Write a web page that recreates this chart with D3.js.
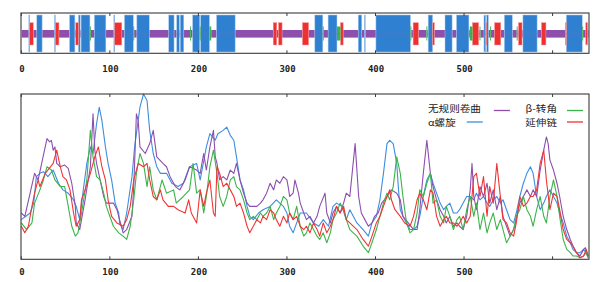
<!DOCTYPE html>
<html>
<head>
<meta charset="utf-8">
<script src="https://cdn.jsdelivr.net/npm/d3@7"></script>
<style>
  body { margin: 0; background: #fff; }
</style>
</head>
<body>
<div id="chart"></div>
<script>
// sequence length and axis ticks
const seqLength = 640;
const tickValues = [0, 100, 200, 300, 400, 500, 600];
const tickLabels = ["0", "100", "200", "300", "400", "500"];

// predicted structure segments [start, end] (residues), the rest is random coil
const helixSegs = [[9,9],[18,23],[38,38],[55,60],[65,66],[68,77],[83,95],[105,105],[117,126],[131,144],
  [167,172],[176,178],[180,183],[194,201],[203,212],[221,241],[332,340],[347,356],[381,384],[388,388],
  [401,439],[460,464],[479,486],[492,505],[523,524],[526,527],[546,554],[567,582],[616,633]];
const strandSegs = [[10,13],[39,42],[62,64],[106,113],[285,288],[291,294],[318,324],[361,363],[443,448],
  [465,466],[510,516],[525,525],[535,541],[562,565],[588,592],[615,615],[638,639]];
const turnSegs = [[78,78],[127,127],[191,191],[202,202],[213,214],[341,341],[357,360],[440,440],[458,458],
  [507,509],[518,518],[530,530],[560,560],[634,634]];

// legend names
const legendNames = ["无规则卷曲", "α螺旋", "β-转角", "延伸链"];

// probability curves, [residue, value]
const coilProb = [[0,0.28],[4,0.26],[15,0.52],[19,0.48],[29,0.73],[32,0.71],[34,0.72],[36,0.66],[38,0.68],[40,0.58],[44,0.56],[49,0.57],[53,0.55],[57,0.46],[61,0.32],[62,0.22],[66,0.18],[68,0.24],[72,0.36],[78,0.56],[81,0.88],[83,0.66],[85,0.58],[89,0.48],[93,0.38],[96,0.34],[104,0.34],[108,0.30],[111,0.24],[115,0.16],[119,0.18],[125,0.26],[127,0.44],[130,0.88],[132,0.84],[134,0.68],[140,0.64],[145,0.70],[149,0.78],[153,0.62],[160,0.58],[164,0.56],[168,0.50],[174,0.44],[179,0.42],[185,0.48],[190,0.56],[198,0.54],
  [202,0.52],[206,0.64],[209,0.54],[213,0.68],[217,0.78],[219,0.62],[221,0.58],[224,0.48],[228,0.50],[232,0.48],[236,0.54],[240,0.52],[243,0.58],[247,0.48],[251,0.40],[255,0.34],[258,0.32],[266,0.32],[270,0.34],[273,0.36],[277,0.40],[281,0.46],[285,0.42],[288,0.48],[292,0.46],[296,0.50],[300,0.48],[302,0.42],[303,0.38],[307,0.40],[309,0.48],[313,0.40],[315,0.34],[319,0.28],[322,0.24],[326,0.26],[330,0.22],[334,0.26],[337,0.32],[343,0.40],[345,0.28],[349,0.22],[352,0.28],[356,0.32],[360,0.28],[364,0.34],[367,0.40],
  [371,0.38],[377,0.70],[381,0.38],[384,0.28],[388,0.24],[392,0.20],[396,0.22],[399,0.26],[403,0.28],[407,0.34],[413,0.38],[418,0.42],[424,0.40],[428,0.36],[431,0.26],[437,0.22],[443,0.18],[447,0.18],[450,0.30],[454,0.52],[458,0.72],[462,0.52],[465,0.44],[469,0.36],[473,0.30],[477,0.26],[480,0.22],[484,0.26],
  [488,0.20],[492,0.22],[495,0.20],[499,0.18],[503,0.26],[507,0.42],[509,0.58],[511,0.38],[514,0.30],[518,0.44],[522,0.38],[526,0.46],[529,0.34],[533,0.42],[537,0.30],[541,0.38],[544,0.26],[548,0.20],[552,0.14],[556,0.18],[559,0.24],[563,0.34],[567,0.38],[571,0.42],[575,0.38],[578,0.42],[582,0.38],[586,0.54],[590,0.66],[593,0.74],[595,0.70],[597,0.60],[601,0.54],[605,0.46],[608,0.38],[612,0.26],[616,0.18],[620,0.12],[623,0.08],[627,0.04],[631,0.02],[635,0.06],[637,0.07],[640,0.02]];

const helixProb = [[0,0.24],[10,0.28],[14,0.34],[17,0.50],[21,0.52],[25,0.53],[30,0.50],[36,0.54],[42,0.46],[47,0.42],[53,0.40],[59,0.36],[62,0.32],[66,0.24],[70,0.42],[74,0.58],[78,0.68],[81,0.64],[85,0.82],[88,0.92],[91,0.84],[95,0.68],[98,0.58],[102,0.48],[106,0.34],[110,0.28],[111,0.22],[115,0.18],[119,0.28],[125,0.50],[128,0.68],[134,0.92],[138,1.00],[142,0.96],[145,0.78],[149,0.64],[153,0.56],[157,0.52],[164,0.52],[170,0.46],[177,0.44],[183,0.46],[190,0.56],[198,0.58],
  [202,0.48],[209,0.68],[213,0.76],[219,0.72],[222,0.76],[228,0.78],[232,0.80],[236,0.75],[240,0.72],[243,0.62],[247,0.48],[251,0.42],[255,0.32],[258,0.26],[262,0.24],[268,0.28],[273,0.30],[281,0.32],[288,0.36],[292,0.34],[296,0.32],[300,0.28],[303,0.20],[307,0.16],[311,0.22],[315,0.28],[322,0.28],[330,0.22],[336,0.20],[341,0.24],[347,0.20],[352,0.32],[356,0.34],[362,0.32],[367,0.24],
  [371,0.30],[379,0.22],[386,0.18],[392,0.14],[396,0.22],[401,0.26],[405,0.36],[409,0.52],[413,0.70],[416,0.72],[420,0.70],[424,0.58],[426,0.42],[428,0.30],[431,0.26],[435,0.22],[439,0.18],[443,0.18],[447,0.20],[450,0.26],[454,0.38],[458,0.48],[462,0.52],[465,0.46],[469,0.40],[473,0.34],[477,0.30],[480,0.32],[484,0.34],
  [488,0.28],[492,0.28],[495,0.30],[499,0.34],[503,0.38],[507,0.38],[511,0.36],[514,0.40],[518,0.36],[522,0.38],[526,0.34],[529,0.32],[533,0.36],[537,0.38],[541,0.34],[544,0.36],[548,0.30],[552,0.24],[556,0.22],[559,0.28],[563,0.38],[567,0.46],[571,0.52],[575,0.56],[578,0.52],[582,0.38],[586,0.30],[590,0.34],[593,0.38],[597,0.42],[601,0.38],[605,0.34],[608,0.28],[612,0.22],[616,0.14],[620,0.10],[623,0.06],[627,0.04],[631,0.04],[635,0.06],[638,0.04],[640,0.01]];

const turnProb = [[0,0.22],[6,0.18],[12,0.22],[15,0.34],[21,0.42],[25,0.48],[29,0.56],[34,0.54],[38,0.48],[44,0.44],[49,0.44],[53,0.32],[57,0.20],[61,0.14],[64,0.16],[68,0.28],[74,0.48],[78,0.78],[81,0.62],[85,0.50],[89,0.48],[93,0.40],[96,0.32],[104,0.20],[110,0.16],[115,0.14],[119,0.12],[123,0.20],[127,0.36],[130,0.52],[134,0.64],[138,0.58],[142,0.44],[145,0.56],[149,0.42],[153,0.36],[159,0.48],[164,0.40],[172,0.42],[175,0.34],[183,0.38],[190,0.42],[194,0.58],[198,0.40],
  [202,0.42],[206,0.28],[209,0.38],[213,0.56],[217,0.66],[221,0.52],[224,0.38],[228,0.32],[232,0.38],[236,0.48],[240,0.50],[243,0.44],[247,0.42],[251,0.36],[255,0.28],[258,0.24],[262,0.26],[266,0.24],[270,0.28],[273,0.26],[277,0.28],[281,0.32],[285,0.24],[288,0.28],[292,0.32],[296,0.38],[300,0.36],[303,0.28],[307,0.24],[311,0.32],[315,0.20],[319,0.14],[322,0.16],[326,0.22],[330,0.18],[334,0.14],[337,0.12],[341,0.16],[345,0.10],[349,0.16],[352,0.24],[356,0.28],[360,0.34],[364,0.30],[367,0.24],
  [371,0.18],[379,0.14],[386,0.08],[392,0.04],[396,0.10],[401,0.18],[405,0.26],[409,0.34],[413,0.40],[416,0.36],[420,0.44],[424,0.62],[428,0.52],[431,0.38],[435,0.22],[439,0.16],[443,0.18],[447,0.28],[450,0.42],[454,0.38],[458,0.46],[462,0.52],[465,0.34],[469,0.36],[473,0.26],[477,0.22],[480,0.32],[484,0.26],
  [488,0.18],[492,0.24],[495,0.26],[499,0.18],[503,0.30],[507,0.38],[511,0.26],[514,0.34],[518,0.18],[522,0.28],[526,0.16],[529,0.22],[533,0.28],[537,0.18],[541,0.24],[544,0.18],[548,0.10],[552,0.14],[556,0.18],[559,0.26],[563,0.30],[567,0.38],[571,0.30],[575,0.26],[578,0.20],[582,0.30],[586,0.38],[590,0.26],[593,0.22],[597,0.38],[601,0.48],[605,0.38],[608,0.26],[612,0.12],[616,0.06],[620,0.04],[623,0.02],[627,0.02],[631,0.01],[635,0.02],[638,0.04],[640,0.01]];

const strandProb = [[0,0.20],[4,0.16],[8,0.20],[12,0.32],[15,0.40],[19,0.48],[21,0.44],[27,0.52],[36,0.58],[40,0.66],[44,0.56],[47,0.50],[51,0.48],[55,0.42],[59,0.28],[62,0.20],[66,0.24],[68,0.36],[72,0.42],[78,0.52],[83,0.62],[87,0.68],[91,0.56],[95,0.48],[98,0.36],[102,0.26],[108,0.22],[115,0.20],[119,0.24],[123,0.32],[127,0.48],[132,0.58],[138,0.56],[142,0.58],[145,0.48],[149,0.38],[153,0.36],[157,0.42],[160,0.36],[166,0.32],[172,0.32],[177,0.30],[185,0.28],[189,0.36],[192,0.28],[198,0.22],
  [202,0.42],[206,0.32],[209,0.40],[213,0.48],[217,0.28],[219,0.26],[221,0.56],[224,0.52],[228,0.44],[232,0.46],[236,0.42],[240,0.38],[243,0.32],[247,0.34],[251,0.28],[255,0.20],[258,0.16],[262,0.20],[266,0.24],[270,0.22],[273,0.26],[277,0.24],[281,0.30],[285,0.28],[288,0.24],[292,0.20],[296,0.26],[300,0.22],[303,0.28],[307,0.24],[311,0.26],[315,0.20],[319,0.18],[322,0.20],[326,0.16],[330,0.22],[334,0.18],[337,0.14],[341,0.22],[345,0.16],[349,0.20],[352,0.24],[356,0.32],[360,0.28],[364,0.32],[367,0.24],
  [371,0.22],[379,0.18],[386,0.12],[392,0.08],[396,0.14],[401,0.22],[405,0.26],[409,0.32],[413,0.38],[416,0.42],[418,0.36],[422,0.30],[428,0.26],[433,0.22],[439,0.20],[443,0.26],[447,0.36],[450,0.40],[454,0.36],[458,0.30],[462,0.42],[465,0.40],[469,0.26],[473,0.20],[477,0.24],[480,0.26],[484,0.22],
  [488,0.22],[492,0.20],[495,0.22],[499,0.26],[503,0.22],[507,0.26],[511,0.50],[514,0.52],[518,0.38],[522,0.50],[526,0.26],[529,0.44],[533,0.34],[537,0.58],[541,0.38],[544,0.24],[548,0.22],[552,0.16],[556,0.14],[559,0.22],[563,0.38],[567,0.32],[571,0.34],[575,0.38],[578,0.38],[582,0.42],[586,0.58],[590,0.66],[593,0.48],[597,0.30],[601,0.40],[605,0.38],[608,0.30],[612,0.18],[616,0.12],[620,0.10],[623,0.08],[627,0.04],[631,0.01],[635,0.02],[638,0.06],[640,0.02]];

const colors = { coil: "#8c4fae", helix: "#2f80d0", turn: "#3bb34a", strand: "#ee3030" };

const svg = d3.select("#chart")
    .append("svg")
    .attr("width", 604)
    .attr("height", 282)
    .style("background", "#fff");

const x = d3.scaleLinear().domain([0, seqLength]).range([21.3, 588]);
const y = d3.scaleLinear().domain([0, 1]).range([259.3, 94]);

// ---- top panel: secondary structure bar ----
const barTop = 13, barBottom = 53.3;

// work out coil runs from the other states
const state = new Array(seqLength + 1).fill("coil");
helixSegs.forEach(s => { for (let i = s[0]; i <= s[1]; i++) state[i] = "helix"; });
strandSegs.forEach(s => { for (let i = s[0]; i <= s[1]; i++) state[i] = "strand"; });
turnSegs.forEach(s => { for (let i = s[0]; i <= s[1]; i++) state[i] = "turn"; });
const coilSegs = [];
let runStart = null;
for (let i = 1; i <= seqLength; i++) {
    if (state[i] === "coil" && runStart === null) runStart = i;
    if ((state[i] !== "coil" || i === seqLength) && runStart !== null) {
        coilSegs.push([runStart, state[i] === "coil" ? i : i - 1]);
        runStart = null;
    }
}

const barG = svg.append("g");

function drawSegs(segs, y0, y1, fill, stroke) {
    barG.selectAll(null)
        .data(segs)
        .enter().append("rect")
        .attr("x", d => x(d[0] - 0.5))
        .attr("width", d => Math.max(0.9, x(d[1] + 0.5) - x(d[0] - 0.5)))
        .attr("y", y0)
        .attr("height", y1 - y0)
        .attr("fill", fill)
        .attr("stroke", stroke)
        .attr("stroke-width", stroke ? 0.5 : 0);
}

drawSegs(coilSegs, 30, 37.6, colors.coil, null);
drawSegs(helixSegs, 15, 52, colors.helix, "#a9cbee");
drawSegs(strandSegs, 22.7, 45, colors.strand, "#f59a9a");
drawSegs(turnSegs, 26.5, 40.5, colors.turn, null);

// thin center line
barG.append("line")
    .attr("x1", x(0)).attr("x2", x(seqLength))
    .attr("y1", 33.8).attr("y2", 33.8)
    .attr("stroke", "#c0508a")
    .attr("stroke-opacity", 0.6)
    .attr("stroke-width", 0.6);

// ---- bottom panel: probability curves ----
const line = d3.line()
    .x(d => x(d[0]))
    .y(d => y(d[1]));

const series = [
    { data: helixProb, color: "#3d8ee0" },
    { data: coilProb, color: colors.coil },
    { data: turnProb, color: "#3cb44b" },
    { data: strandProb, color: "#f03535" }
];

svg.append("g")
    .selectAll("path")
    .data(series)
    .enter().append("path")
    .attr("d", d => line(d.data))
    .attr("fill", "none")
    .attr("stroke", d => d.color)
    .attr("stroke-width", 1.1)
    .attr("stroke-linejoin", "round");

// ---- frames, ticks, labels ----
function frame(y0, y1, labelY) {
    svg.append("rect")
        .attr("x", 21).attr("y", y0)
        .attr("width", 568).attr("height", y1 - y0)
        .attr("fill", "none")
        .attr("stroke", "#3a3a3a")
        .attr("stroke-width", 1.1);

    const ticks = svg.append("g");
    tickValues.forEach(t => {
        ticks.append("line")
            .attr("x1", x(t)).attr("x2", x(t))
            .attr("y1", y0).attr("y2", y0 + 3)
            .attr("stroke", "#3a3a3a");
        ticks.append("line")
            .attr("x1", x(t)).attr("x2", x(t))
            .attr("y1", y1).attr("y2", y1 - 3)
            .attr("stroke", "#3a3a3a");
    });

    svg.append("g")
        .selectAll("text")
        .data(tickLabels)
        .enter().append("text")
        .attr("x", d => x(+d) + 0.6)
        .attr("y", labelY)
        .attr("text-anchor", "middle")
        .style("font-family", "'DejaVu Sans Mono', monospace")
        .style("font-weight", "bold")
        .style("font-size", "9px")
        .style("fill", "#222")
        .text(d => d);
}

frame(barTop, barBottom, 72);
frame(94, 259.3, 274.6);

// ---- legend ----
// glyphs are drawn a little narrow-high and stretched sideways, as in the source
const legendFont = 9.2, stretch = 1.15;
const legend = svg.append("g")
    .style("font-family", "'Noto Sans CJK SC', sans-serif")
    .style("font-size", legendFont + "px")
    .style("fill", "#222");

const legendItems = [
    { name: legendNames[0], tx: 428, ty: 112.3, anchor: "start" },
    { name: legendNames[1], tx: 428, ty: 125.8, anchor: "start" },
    { name: legendNames[2], tx: 557, ty: 112.3, anchor: "end" },
    { name: legendNames[3], tx: 557, ty: 125.8, anchor: "end" }
];
const legendTexts = legend.selectAll("g.item")
    .data(legendItems)
    .enter().append("g")
    .attr("class", "item")
    .attr("transform", d => `translate(${d.tx},${d.ty}) scale(${stretch},1)`)
    .append("text")
    .attr("text-anchor", d => d.anchor)
    .text(d => d.name);

const w1 = legendTexts.nodes()[0].getComputedTextLength() * stretch;
const w2 = legendTexts.nodes()[1].getComputedTextLength() * stretch;
const legendLines = [
    { x0: 428 + w1 + 13, y: 110.5, color: colors.coil },
    { x0: 428 + w2 + 11, y: 122, color: "#3d8ee0" },
    { x0: 567, y: 110.5, color: "#3cb44b" },
    { x0: 567, y: 122, color: "#f03535" }
];
legend.selectAll("line")
    .data(legendLines)
    .enter().append("line")
    .attr("x1", d => d.x0).attr("x2", d => d.x0 + 16)
    .attr("y1", d => d.y).attr("y2", d => d.y)
    .attr("stroke", d => d.color)
    .attr("stroke-width", 1.3);
</script>
</body>
</html>
